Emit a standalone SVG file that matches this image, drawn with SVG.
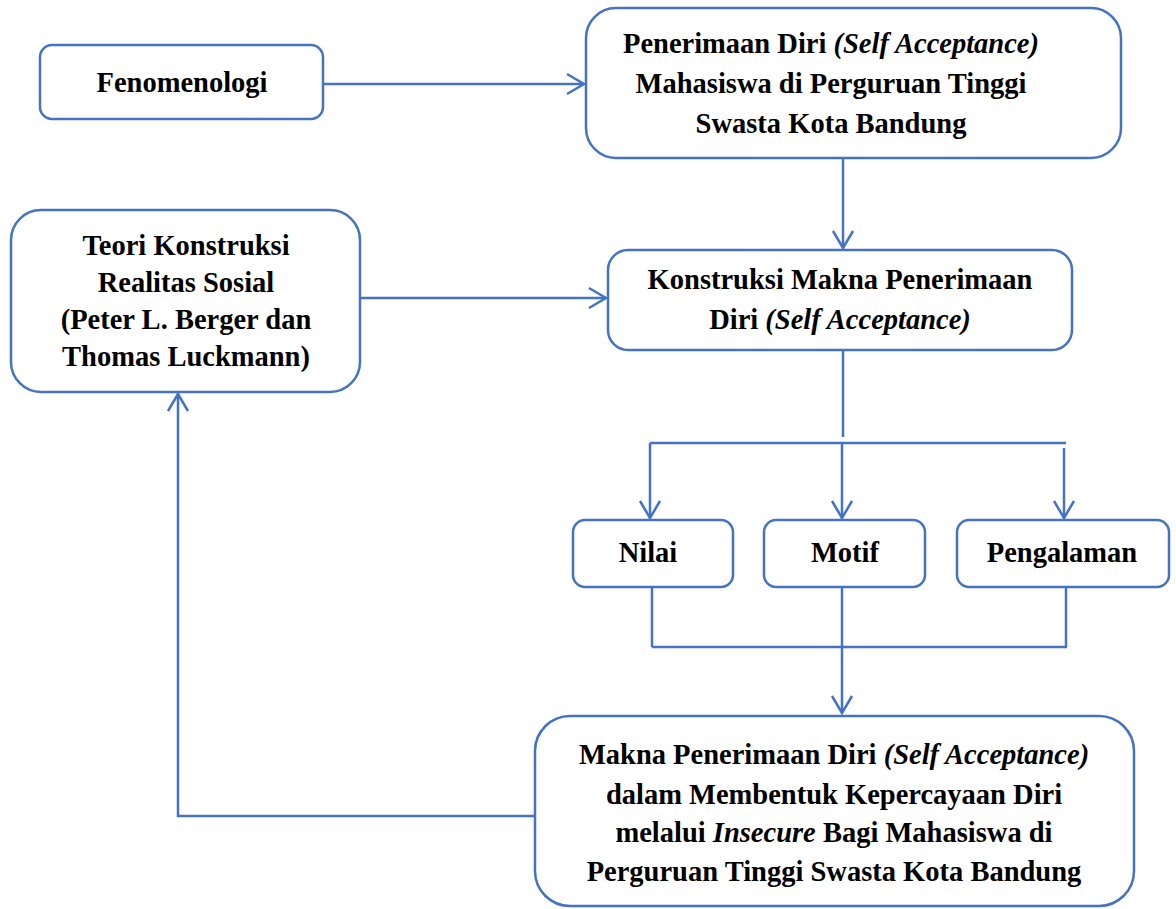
<svg xmlns="http://www.w3.org/2000/svg" width="1176" height="909" viewBox="0 0 1176 909">
<style>
.box{fill:#fff;stroke:#4472C4;stroke-width:2.5}
.c{fill:none;stroke:#4472C4;stroke-width:2.5}
text{font-family:'Liberation Serif','Times New Roman',serif;font-weight:bold;font-size:28.5px;fill:#000;text-anchor:middle}
.i{font-style:italic}
</style>
<defs>
<marker id="a" markerWidth="24" markerHeight="24" refX="19" refY="12" orient="auto" markerUnits="userSpaceOnUse">
<path d="M2,2 L19,12 L2,22" fill="none" stroke="#4472C4" stroke-width="2.5"/>
</marker>
</defs>
<rect width="1176" height="909" fill="#fff"/>
<g id="connectors">
<line class="c" x1="323" y1="84" x2="584" y2="84" marker-end="url(#a)"/>
<line class="c" x1="843" y1="158" x2="843" y2="248" marker-end="url(#a)"/>
<line class="c" x1="360" y1="298" x2="606" y2="298" marker-end="url(#a)"/>
<line class="c" x1="843" y1="350" x2="843" y2="437"/>
<line class="c" x1="650" y1="443" x2="1066" y2="443"/>
<line class="c" x1="650" y1="443" x2="650" y2="518" marker-end="url(#a)"/>
<line class="c" x1="842" y1="443" x2="842" y2="518" marker-end="url(#a)"/>
<line class="c" x1="1064" y1="448" x2="1064" y2="518" marker-end="url(#a)"/>
<line class="c" x1="652" y1="587" x2="652" y2="647"/>
<line class="c" x1="842" y1="587" x2="842" y2="647"/>
<line class="c" x1="1066" y1="587" x2="1066" y2="647"/>
<line class="c" x1="652" y1="647" x2="1067" y2="647"/>
<line class="c" x1="842" y1="647" x2="842" y2="713" marker-end="url(#a)"/>
<polyline class="c" points="535,816 178,816 178,394" marker-end="url(#a)"/>
</g>
<g id="fenomenologi">
<rect class="box" x="40" y="45" width="283" height="74" rx="12"/>
<text x="182" y="92">Fenomenologi</text>
</g>
<g id="penerimaan">
<rect class="box" x="586" y="8" width="535" height="150" rx="30"/>
<text x="831" y="53">Penerimaan Diri <tspan class="i">(Self Acceptance)</tspan></text>
<text x="831" y="93">Mahasiswa di Perguruan Tinggi</text>
<text x="831" y="133">Swasta Kota Bandung</text>
</g>
<g id="teori">
<rect class="box" x="11" y="210" width="349" height="182" rx="30"/>
<text x="186" y="255">Teori Konstruksi</text>
<text x="186" y="292">Realitas Sosial</text>
<text x="186" y="329">(Peter L. Berger dan</text>
<text x="186" y="366">Thomas Luckmann)</text>
</g>
<g id="konstruksi">
<rect class="box" x="608" y="250" width="464" height="100" rx="20"/>
<text x="840" y="289">Konstruksi Makna Penerimaan</text>
<text x="840" y="329">Diri <tspan class="i">(Self Acceptance)</tspan></text>
</g>
<g id="nilai">
<rect class="box" x="573" y="520" width="160" height="67" rx="12"/>
<text x="648" y="562">Nilai</text>
</g>
<g id="motif">
<rect class="box" x="764" y="520" width="161" height="67" rx="12"/>
<text x="845" y="562">Motif</text>
</g>
<g id="pengalaman">
<rect class="box" x="957" y="520" width="212" height="67" rx="12"/>
<text x="1062" y="562">Pengalaman</text>
</g>
<g id="makna">
<rect class="box" x="535" y="716" width="599" height="190" rx="35"/>
<text x="834" y="764">Makna Penerimaan Diri <tspan class="i">(Self Acceptance)</tspan></text>
<text x="834" y="804">dalam Membentuk Kepercayaan Diri</text>
<text x="834" y="842">melalui <tspan class="i">Insecure</tspan> Bagi Mahasiswa di</text>
<text x="834" y="881">Perguruan Tinggi Swasta Kota Bandung</text>
</g>
</svg>
